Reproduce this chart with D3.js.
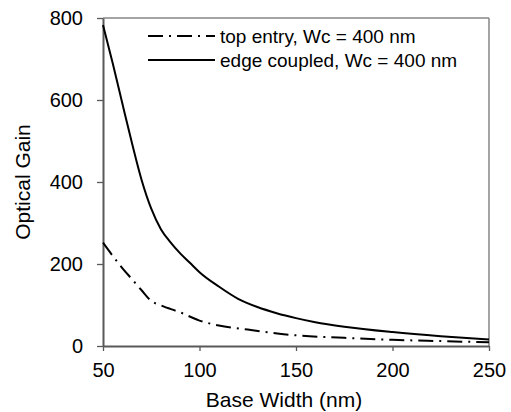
<!DOCTYPE html>
<html>
<head>
<meta charset="utf-8">
<script src="https://cdn.jsdelivr.net/npm/d3@7"></script>
<style>
  body { margin: 0; background: #fff; }
  svg { display: block; font-family: Arial, "Liberation Sans", Helvetica, sans-serif; }
</style>
</head>
<body>
<svg id="chart" width="511" height="412"></svg>
<script>
// Data
const edgeX = [50, 55, 60, 65, 70, 75, 80, 85, 90, 95, 100, 110, 120, 130, 140, 150, 160, 175, 200, 225, 250];
const edgeY = [783, 690, 592, 495, 405, 335, 285, 253, 226, 203, 180, 145, 115, 95, 80, 68, 58, 47, 34, 24, 16];
const topX = [50, 55, 60, 65, 70, 75, 80, 90, 100, 110, 125, 150, 175, 200, 225, 250];
const topY = [252, 220, 190, 163, 136, 110, 99, 82, 62, 50, 40, 26, 20, 15, 12, 9];
const xTicks = [50, 100, 150, 200, 250];
const yTicks = [0, 200, 400, 600, 800];
const seriesNames = ["top entry, Wc = 400 nm", "edge coupled, Wc = 400 nm"];
const xTitle = "Base Width (nm)";
const yTitle = "Optical Gain";

const svg = d3.select("#chart");
const m = { left: 103, top: 18, right: 22, bottom: 66 };
const W = 511 - m.left - m.right;
const H = 412 - m.top - m.bottom;

const x = d3.scaleLinear().domain([50, 250]).range([0, W]);
const y = d3.scaleLinear().domain([0, 800]).range([H, 0]);

const g = svg.append("g").attr("transform", `translate(${m.left},${m.top})`);

// frame (top and right)
g.append("line").attr("x1", 0).attr("x2", W).attr("y1", 0).attr("y2", 0)
  .attr("stroke", "#868686").attr("stroke-width", 1.5);
g.append("line").attr("x1", W).attr("x2", W).attr("y1", 0).attr("y2", H)
  .attr("stroke", "#868686").attr("stroke-width", 1.5);

// axes
const xAxis = g.append("g").attr("transform", `translate(0,${H})`)
  .call(d3.axisBottom(x).tickValues(xTicks).tickSize(5).tickPadding(12).tickSizeOuter(0).tickFormat(d3.format("d")));
const yAxis = g.append("g")
  .call(d3.axisLeft(y).tickValues(yTicks).tickSize(6).tickPadding(14).tickSizeOuter(0).tickFormat(d3.format("d")));
[xAxis, yAxis].forEach(a => {
  a.select(".domain").attr("stroke", "#595959").attr("stroke-width", 2);
  a.selectAll(".tick line").attr("stroke", "#595959").attr("stroke-width", 1.3);
  a.selectAll(".tick text").attr("fill", "#000").style("font-size", "20px")
    .style("font-family", "Arial, 'Liberation Sans', sans-serif");
});

// lines
const line = d3.line().x(d => x(d[0])).y(d => y(d[1])).curve(d3.curveMonotoneX);
const topData = topX.map((v, i) => [v, topY[i]]);
const edgeData = edgeX.map((v, i) => [v, edgeY[i]]);

g.append("path").datum(topData).attr("d", line)
  .attr("fill", "none").attr("stroke", "#000").attr("stroke-width", 2)
  .attr("stroke-dasharray", "15,6,2,6");
g.append("path").datum(edgeData).attr("d", line)
  .attr("fill", "none").attr("stroke", "#000").attr("stroke-width", 2);

// legend
const leg = svg.append("g");
const legY = [36, 60];
leg.append("line").attr("x1", 148).attr("x2", 215).attr("y1", legY[0]).attr("y2", legY[0])
  .attr("stroke", "#000").attr("stroke-width", 2).attr("stroke-dasharray", "15,6,2,6");
leg.append("line").attr("x1", 148).attr("x2", 215).attr("y1", legY[1]).attr("y2", legY[1])
  .attr("stroke", "#000").attr("stroke-width", 2);
seriesNames.forEach((s, i) => {
  leg.append("text").attr("x", 220).attr("y", legY[i]).attr("dy", "0.35em")
    .style("font-size", "19px").attr("fill", "#000").text(s);
});

// titles
svg.append("text").attr("x", 284).attr("y", 407).attr("text-anchor", "middle")
  .style("font-size", "21px").attr("fill", "#000").text(xTitle);
svg.append("text").attr("transform", "translate(30,182) rotate(-90)").attr("text-anchor", "middle")
  .style("font-size", "21px").attr("fill", "#000").text(yTitle);
</script>
</body>
</html>
